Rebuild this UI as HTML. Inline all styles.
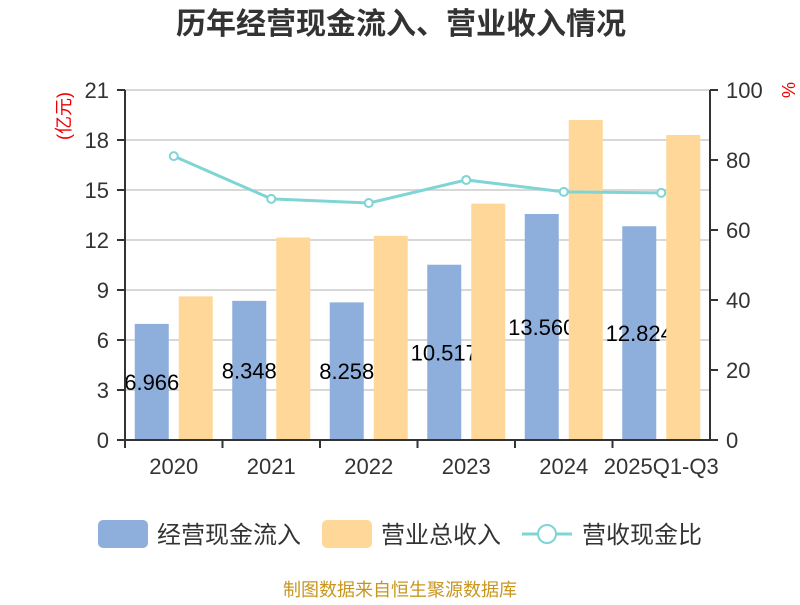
<!DOCTYPE html>
<html><head><meta charset="utf-8"><style>
body{margin:0;background:#fff;}
svg text{font-family:"Liberation Sans","Noto Sans CJK SC",sans-serif;}
</style></head><body>
<svg id="c" width="800" height="600" xmlns="http://www.w3.org/2000/svg">
<text x="401" y="34" text-anchor="middle" font-size="30" font-weight="bold" fill="#333">历年经营现金流入、营业收入情况</text>
<text transform="translate(70,116) rotate(-90)" text-anchor="middle" font-size="18" fill="#e00">(亿元)</text>
<text transform="translate(782,90) rotate(90)" text-anchor="middle" font-size="18" fill="#e00">%</text>
<g id="grid"></g><g id="marks"></g><g id="axes"></g>
<g>
<rect x="98" y="520" width="50" height="28" rx="5" fill="#8eaedb"/>
<text x="157" y="543" font-size="24" fill="#333">经营现金流入</text>
<rect x="322" y="520" width="50" height="28" rx="5" fill="#ffd899"/>
<text x="381" y="543" font-size="24" fill="#333">营业总收入</text>
<line x1="522" y1="534" x2="572" y2="534" stroke="#7fd4d6" stroke-width="3"/>
<circle cx="547" cy="534" r="9" fill="#fff" stroke="#7fd4d6" stroke-width="2"/>
<text x="582" y="543" font-size="24" fill="#333">营收现金比</text>
</g>
<text x="400" y="596" text-anchor="middle" font-size="18" fill="#c8961e">制图数据来自恒生聚源数据库</text>
</svg>
<script>
const categories=["2020","2021","2022","2023","2024","2025Q1-Q3"];
const cashInflow=[6.966,8.348,8.258,10.517,13.560,12.824];
const revenue=[8.62,12.15,12.25,14.18,19.2,18.3];
const ratio=[81.1,68.9,67.7,74.3,70.9,70.6];
const leftTicks=[0,3,6,9,12,15,18,21];
const rightTicks=[0,20,40,60,80,100];
const NS="http://www.w3.org/2000/svg";
const X0=125,X1=710,Y0=440,Y1=90;
const bw=(X1-X0)/categories.length;
const yL=v=>Y0-(v/21)*(Y0-Y1);
const yR=v=>Y0-(v/100)*(Y0-Y1);
const xc=i=>X0+bw*(i+0.5);
function mk(t,a,p){const e=document.createElementNS(NS,t);for(const k in a)e.setAttribute(k,a[k]);p.appendChild(e);return e;}
const grid=document.getElementById('grid'),marks=document.getElementById('marks'),axes=document.getElementById('axes');
leftTicks.forEach(v=>{
 if(v>0){const g=mk('line',{x1:X0,x2:X1,y1:yL(v),y2:yL(v),stroke:'#ccc','stroke-width':1.5},grid);
 
 }
 const tk=mk('line',{x1:X0-8,x2:X0,y1:yL(v),y2:yL(v),stroke:'#333','stroke-width':2},axes);
 
 
 const t=mk('text',{x:X0-16,y:yL(v)+8,'text-anchor':'end','font-size':22,fill:'#333'},axes);t.textContent=v;
 
 
});
rightTicks.forEach(v=>{
 const tk=mk('line',{x1:X1,x2:X1+8,y1:yR(v),y2:yR(v),stroke:'#333','stroke-width':2},axes);
 
 
 const t=mk('text',{x:X1+16,y:yR(v)+8,'font-size':22,fill:'#333'},axes);t.textContent=v;
 
 
});
let a=mk('line',{x1:X0,x2:X0,y1:Y1,y2:Y0,stroke:'#333','stroke-width':2},axes);


a=mk('line',{x1:X1,x2:X1,y1:Y1,y2:Y0,stroke:'#333','stroke-width':2},axes);


a=mk('line',{x1:X0,x2:X1,y1:Y0,y2:Y0,stroke:'#333','stroke-width':2},axes);


categories.forEach((c,i)=>{
 const tk=mk('line',{x1:X0+bw*i,x2:X0+bw*i,y1:Y0,y2:Y0+8,stroke:'#333','stroke-width':2},axes);
 
 
 const t=mk('text',{x:xc(i),y:474,'text-anchor':'middle','font-size':22,fill:'#333'},axes);t.textContent=c;
 
 
});
const w=34;
categories.forEach((c,i)=>{
 const b=mk('rect',{x:xc(i)-39,y:yL(cashInflow[i]),width:w,height:Y0-yL(cashInflow[i]),fill:'#8eaedb'},marks);
 
 
 const t=mk('text',{x:xc(i)-22,y:(yL(cashInflow[i])+Y0)/2+8,'text-anchor':'middle','font-size':22,fill:'#000'},marks);t.textContent=cashInflow[i].toFixed(3);
 
 
});
categories.forEach((c,i)=>{
 const b=mk('rect',{x:xc(i)+5,y:yL(revenue[i]),width:w,height:Y0-yL(revenue[i]),fill:'#ffd899'},marks);
 
 
});
const pl=mk('polyline',{points:ratio.map((v,i)=>xc(i)+','+yR(v)).join(' '),fill:'none',stroke:'#7fd4d6','stroke-width':3},marks);


ratio.forEach((v,i)=>{
 const p=mk('circle',{cx:xc(i),cy:yR(v),r:4,fill:'#fff',stroke:'#7fd4d6','stroke-width':2},marks);
 
 
});
</script>
</body></html>
